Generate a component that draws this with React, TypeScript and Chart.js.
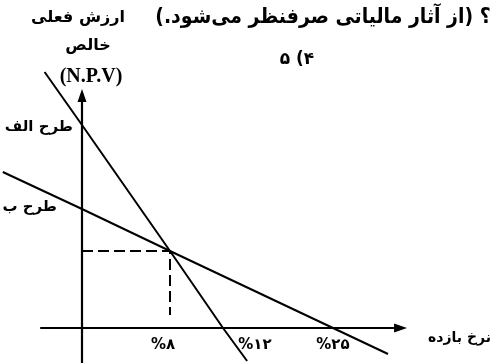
import React, { useEffect, useRef } from "react";
import { Chart, registerables, LinearScale } from "chart.js";

// ---------------- data ----------------
const rateTicks = [8, 12, 25];
const rateTickLabels = ["%۸", "%۱۲", "%۲۵"];
const seriesNames = ["طرح الف", "طرح ب"];
const planARates = [-3.4, 0, 8, 12, 14.85];
const planANpv = [25.6, 20.3, 7.7, 0, -3.3];
const planBRates = [-7.2, 0, 8, 25, 31.5];
const planBNpv = [15.6, 11.9, 7.7, 0, -2.6];
const crossRate = 8;
const crossNpv = 7.7;

const titleText = "؟ (از آثار مالیاتی صرفنظر می‌شود.)";
const optionText = "۴) ۵";
const yTitleLines = ["ارزش فعلی", "خالص", "(N.P.V)"];
const xTitle = "نرخ بازده";

// ---------------- layout ----------------
const W = 491;
const H = 363;
const STOP_RATES = [0, 8, 12, 25];
const STOP_PX = [82, 170, 223, 333];
const Y_MIN = -3.5;
const Y_MAX = 32.8;
const X_AXIS_FROM = -3.8;
const X_AXIS_TIP = 33.75;
const Y_AXIS_TIP = 23.9;
const GUIDE_BOTTOM = 1.3;
const TICK_DX = [-7, 32, 0];
const TICK_Y = 345;
const SERIES_LABEL_DX = [-9, -25];
const SERIES_LABEL_DY = [2, -2];
const ARROW_LEN = 13;
const ARROW_HALF = 4.5;
const ARABIC = '"DejaVu Sans", sans-serif';

function rateToFrac(v: number) {
  const n = STOP_RATES.length;
  let i = 0;
  if (v <= STOP_RATES[0]) i = 0;
  else if (v >= STOP_RATES[n - 1]) i = n - 2;
  else {
    while (v > STOP_RATES[i + 1]) i++;
  }
  const r0 = STOP_RATES[i], r1 = STOP_RATES[i + 1];
  const p0 = STOP_PX[i], p1 = STOP_PX[i + 1];
  return (p0 + ((v - r0) * (p1 - p0)) / (r1 - r0)) / W;
}
function fracToRate(f: number) {
  const px = f * W;
  const n = STOP_PX.length;
  let i = 0;
  if (px <= STOP_PX[0]) i = 0;
  else if (px >= STOP_PX[n - 1]) i = n - 2;
  else {
    while (px > STOP_PX[i + 1]) i++;
  }
  const r0 = STOP_RATES[i], r1 = STOP_RATES[i + 1];
  const p0 = STOP_PX[i], p1 = STOP_PX[i + 1];
  return r0 + ((px - p0) * (r1 - r0)) / (p1 - p0);
}

class PiecewiseScale extends LinearScale {
  static id = "piecewise";
  static defaults = LinearScale.defaults;
  getPixelForValue(value: number) {
    return this.left + rateToFrac(value) * this.width;
  }
  getValueForPixel(pixel: number) {
    return fracToRate((pixel - this.left) / this.width);
  }
}

Chart.register(...registerables, PiecewiseScale);

const pts = (xs: number[], ys: number[]) => xs.map((x, i) => ({ x, y: ys[i] }));

const labelPlugin = {
  id: "schematicLabels",
  afterDatasetsDraw(chart: any) {
    const ctx = chart.ctx as CanvasRenderingContext2D;
    const xs = chart.scales.x;
    const ys = chart.scales.y;
    ctx.save();
    ctx.fillStyle = "#000";
    // arrowheads
    const ax = xs.getPixelForValue(0);
    const tipY = ys.getPixelForValue(Y_AXIS_TIP);
    ctx.beginPath();
    ctx.moveTo(ax, tipY);
    ctx.lineTo(ax - ARROW_HALF, tipY + ARROW_LEN);
    ctx.lineTo(ax + ARROW_HALF, tipY + ARROW_LEN);
    ctx.closePath();
    ctx.fill();
    const ay = ys.getPixelForValue(0);
    const tipX = xs.getPixelForValue(X_AXIS_TIP);
    ctx.beginPath();
    ctx.moveTo(tipX, ay);
    ctx.lineTo(tipX - ARROW_LEN, ay - ARROW_HALF);
    ctx.lineTo(tipX - ARROW_LEN, ay + ARROW_HALF);
    ctx.closePath();
    ctx.fill();
    // tick labels
    ctx.font = `bold 15px ${ARABIC}`;
    ctx.textAlign = "center";
    ctx.textBaseline = "middle";
    ctx.direction = "ltr";
    rateTicks.forEach((r, i) => {
      ctx.fillText(rateTickLabels[i], xs.getPixelForValue(r) + TICK_DX[i], TICK_Y);
    });
    // series labels at the NPV axis
    ctx.direction = "rtl";
    ctx.textAlign = "right";
    const intercepts = [planANpv[planARates.indexOf(0)], planBNpv[planBRates.indexOf(0)]];
    seriesNames.forEach((name, i) => {
      ctx.fillText(
        name,
        ax + SERIES_LABEL_DX[i],
        ys.getPixelForValue(intercepts[i]) + SERIES_LABEL_DY[i]
      );
    });
    ctx.restore();
  },
};

const txt = (extra: React.CSSProperties): React.CSSProperties => ({
  position: "absolute",
  whiteSpace: "nowrap",
  lineHeight: 1,
  fontWeight: "bold",
  color: "#000",
  fontFamily: ARABIC,
  ...extra,
});

export default function App() {
  const ref = useRef<HTMLCanvasElement>(null);
  useEffect(() => {
    const canvas = ref.current!;
    const black = "#000";
    const chart = new Chart(canvas, {
      type: "line",
      data: {
        datasets: [
          { label: seriesNames[0], data: pts(planARates, planANpv), borderColor: black, borderWidth: 2 },
          { label: seriesNames[1], data: pts(planBRates, planBNpv), borderColor: black, borderWidth: 2 },
          {
            label: "x-axis",
            data: [{ x: X_AXIS_FROM, y: 0 }, { x: X_AXIS_TIP - 1, y: 0 }],
            borderColor: black,
            borderWidth: 2.2,
          },
          {
            label: "y-axis",
            data: [{ x: 0, y: Y_MIN }, { x: 0, y: Y_AXIS_TIP - 1 }],
            borderColor: black,
            borderWidth: 2.2,
          },
          {
            label: "guide",
            data: [
              { x: 0, y: crossNpv },
              { x: crossRate, y: crossNpv },
              { x: crossRate, y: GUIDE_BOTTOM },
            ],
            borderColor: black,
            borderWidth: 2,
            borderDash: [11, 5],
          },
        ],
      },
      options: {
        animation: false,
        responsive: false,
        maintainAspectRatio: false,
        layout: { padding: 0 },
        elements: { point: { radius: 0 }, line: { tension: 0 } },
        plugins: { legend: { display: false }, tooltip: { enabled: false } },
        scales: {
          x: { type: "piecewise" as any, min: -8, max: 38, display: false },
          y: { type: "linear", min: Y_MIN, max: Y_MAX, display: false },
        },
      } as any,
      plugins: [labelPlugin],
    });
    return () => chart.destroy();
  }, []);

  return (
    <div
      style={{
        position: "absolute",
        left: 0,
        top: 0,
        width: W,
        height: H,
        overflow: "hidden",
        background: "#fff",
      }}
    >
      <canvas
        ref={ref}
        width={W}
        height={H}
        style={{ position: "absolute", left: 0, top: 0, width: W, height: H }}
      />
      <div
        dir="rtl"
        style={txt({
          right: 0,
          top: 6,
          fontSize: 21,
          transform: "scaleX(0.9)",
          transformOrigin: "right center",
        })}
      >
        {titleText}
      </div>
      <div dir="rtl" style={txt({ left: 297, top: 58, fontSize: 17, transform: "translate(-50%,-50%)" })}>
        {optionText}
      </div>
      <div dir="rtl" style={txt({ left: 78, top: 17, fontSize: 16, transform: "translate(-50%,-50%)" })}>
        {yTitleLines[0]}
      </div>
      <div dir="rtl" style={txt({ left: 88, top: 45, fontSize: 16, transform: "translate(-50%,-50%)" })}>
        {yTitleLines[1]}
      </div>
      <div
        style={txt({
          left: 91,
          top: 75,
          fontSize: 20,
          fontFamily: '"Liberation Serif", serif',
          transform: "translate(-50%,-50%)",
        })}
      >
        {yTitleLines[2]}
      </div>
      <div dir="rtl" style={txt({ right: 0, top: 337, fontSize: 14, transform: "translateY(-50%)" })}>
        {xTitle}
      </div>
    </div>
  );
}
